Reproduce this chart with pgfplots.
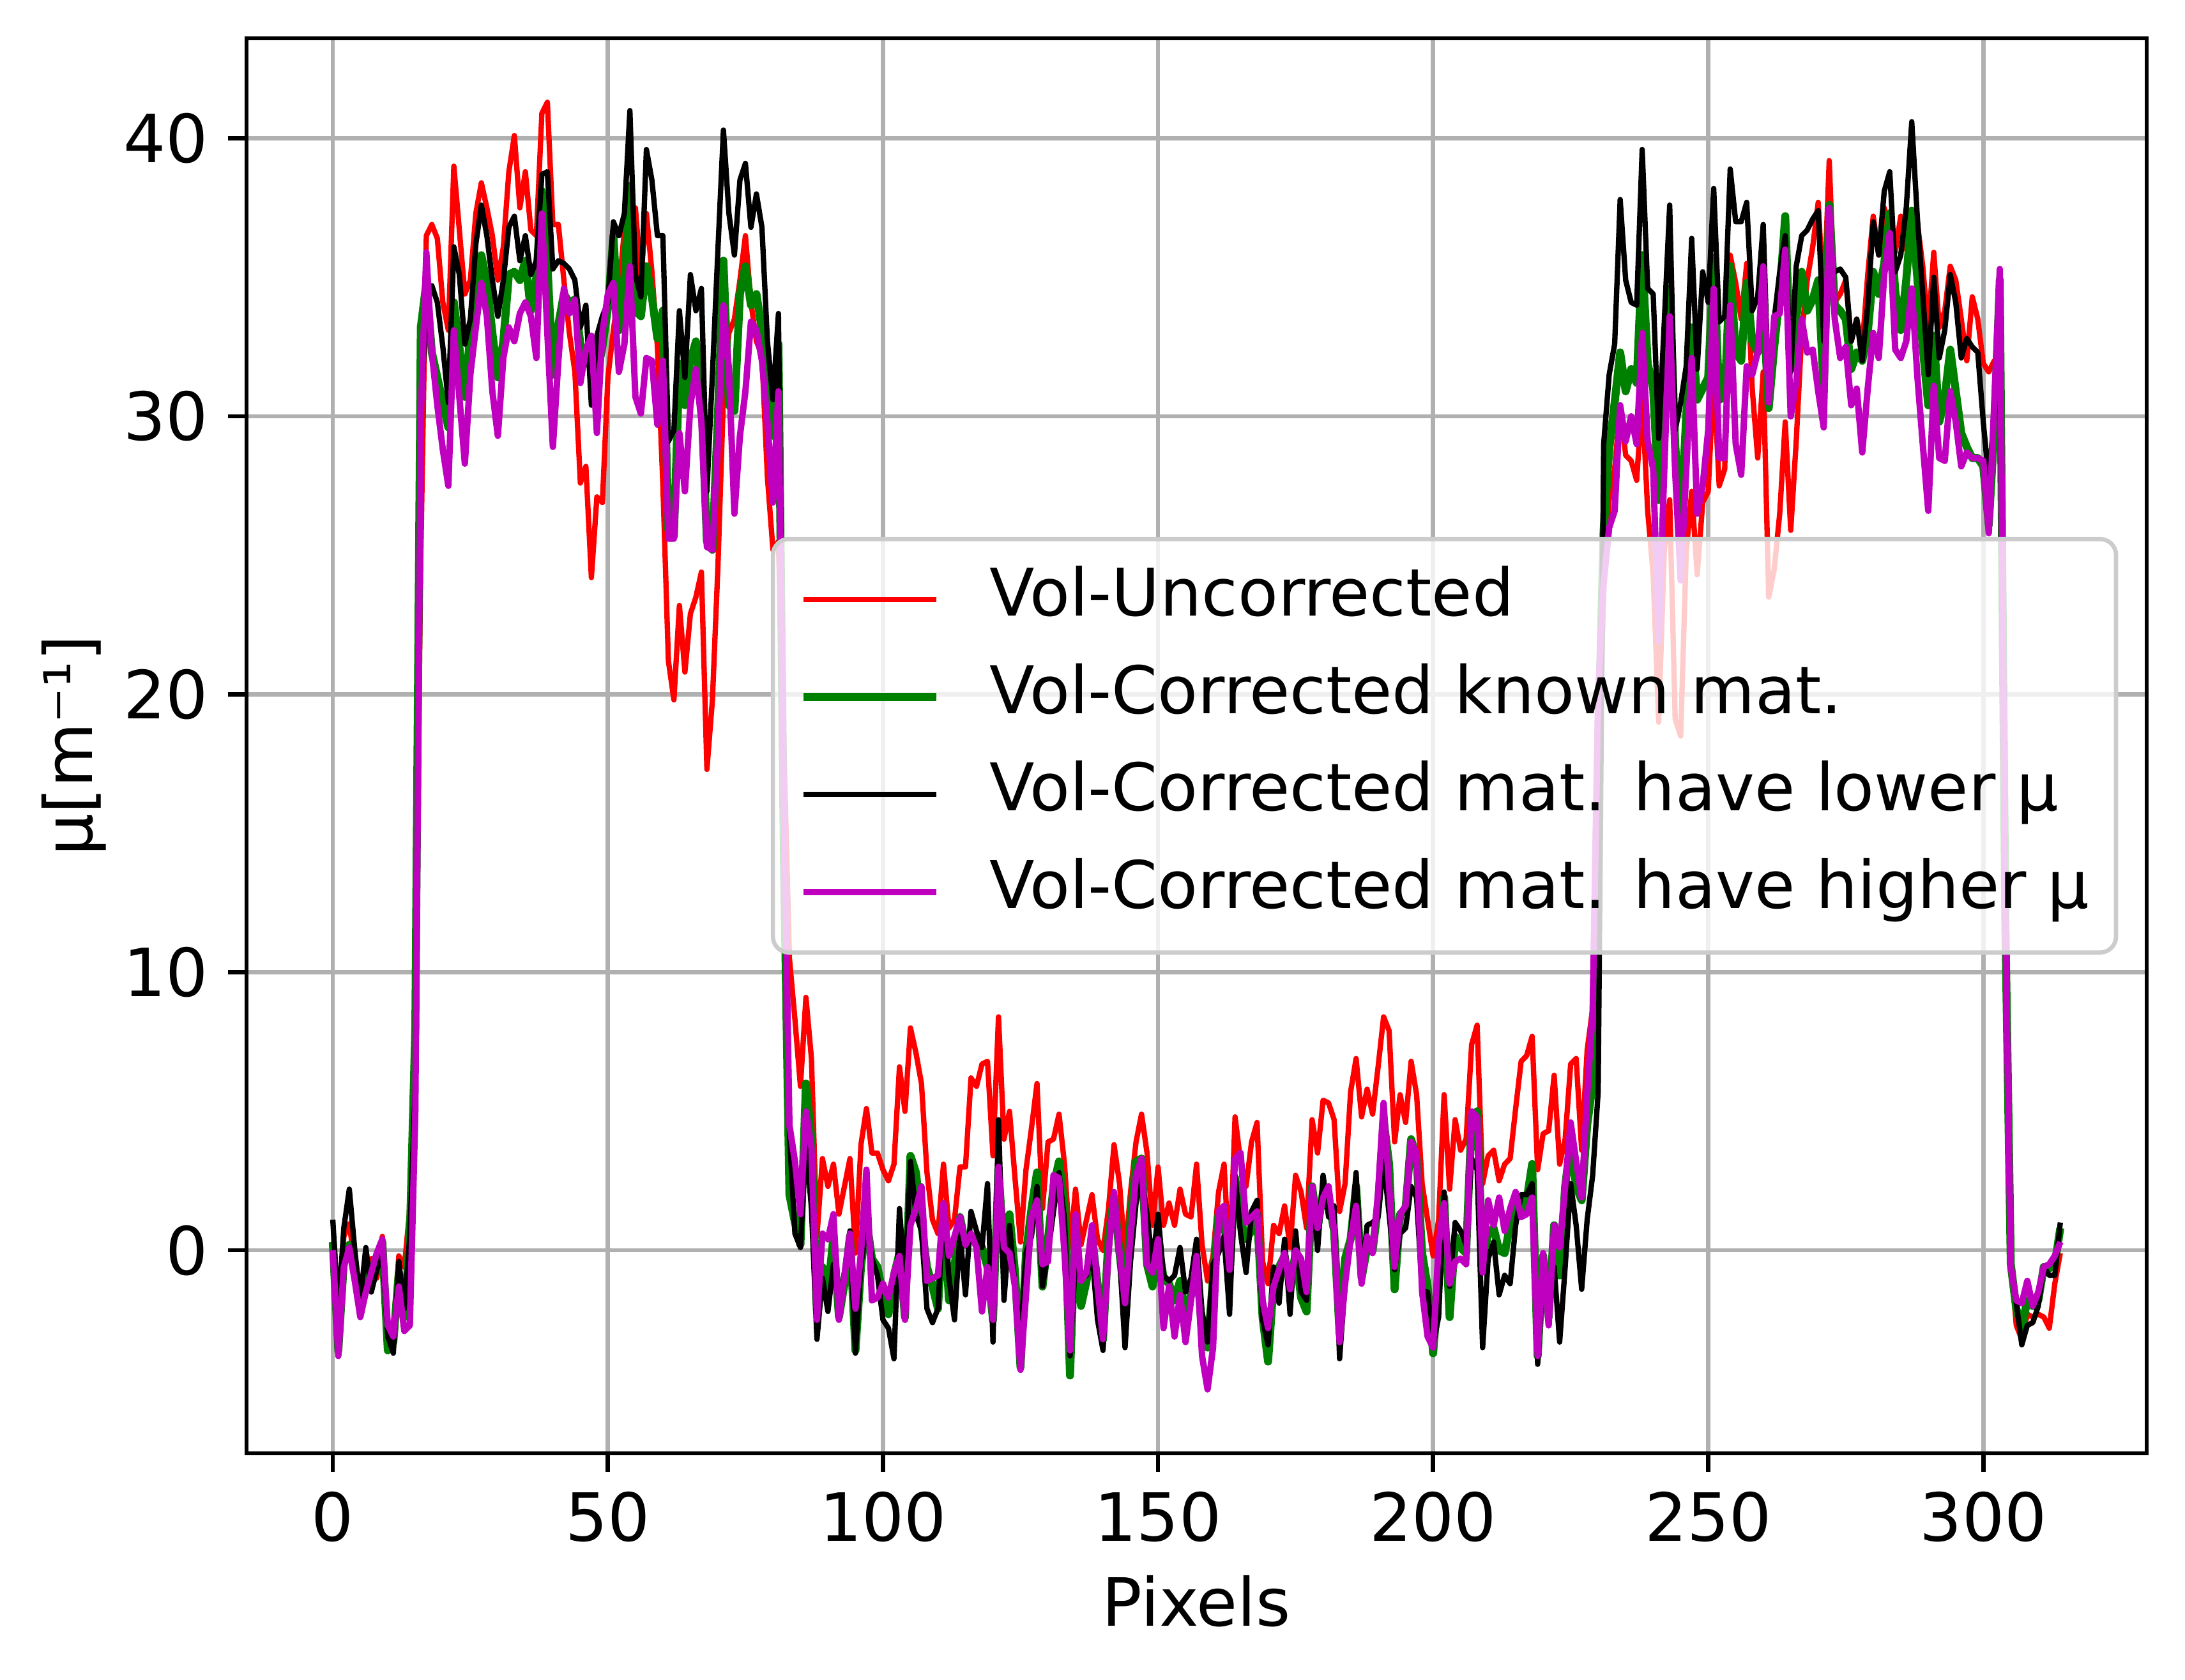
\documentclass[border=0pt]{standalone}
\usepackage{fontspec}
\setmainfont{DejaVu Sans}
\usepackage{pgfplots}
\usepackage{pgfplotstable}
\pgfplotsset{compat=1.18}
\definecolor{mplgreen}{rgb}{0,0.5,0}
\definecolor{mplmag}{rgb}{0.75,0,0.75}
\definecolor{gridgray}{rgb}{0.69,0.69,0.69}
\definecolor{legedge}{rgb}{0.8,0.8,0.8}

\pgfplotstableread{
x r g k m
0 0.2 0.3 1.1 0.0
1 -3.6 -3.6 -2.2 -3.8
2 0.5 -0.4 0.8 -0.6
3 0.95 0.2 2.2 0.1
4 -0.5 -0.9 0.0 -1.1
5 -1.2 -2.0 -1.8 -2.4
6 -0.9 -1.0 0.1 -1.5
7 -0.3 -0.8 -1.5 -0.8
8 -1.0 -0.2 -0.7 -0.1
9 0.5 0.3 -0.1 0.4
10 -2.9 -3.6 -3.1 -2.7
11 -2.8 -3.3 -3.7 -3.1
12 -0.2 -0.8 -0.4 -1.3
13 -0.6 -2.4 -2.1 -2.9
14 1.5 0.5 0.5 -2.7
15 9.0 8.0 6.0 5.0
16 25.0 33.2 30.0 30.0
17 36.5 34.8 34.0 35.9
18 36.9 32.3 34.7 32.3
19 36.4 31.4 34.1 30.4
20 34.1 30.5 32.5 28.8
21 33.1 29.6 30.5 27.5
22 39.0 34.1 36.1 33.1
23 36.7 32.5 35.1 30.7
24 34.4 30.7 32.6 28.3
25 34.9 33.0 33.5 31.5
26 37.3 34.5 36.2 33.2
27 38.4 35.8 37.6 34.8
28 37.5 34.8 36.5 33.6
29 36.5 33.0 34.9 30.9
30 34.9 31.4 33.6 29.3
31 36.1 32.7 34.9 32.1
32 38.8 35.1 36.8 33.2
33 40.1 35.2 37.2 32.7
34 37.5 34.9 35.6 33.7
35 38.8 35.6 36.5 34.1
36 36.7 33.8 35.1 33.6
37 36.5 35.0 35.6 32.1
38 40.9 38.1 38.7 37.3
39 41.3 35.5 38.8 33.0
40 36.9 31.5 35.3 28.9
41 36.9 33.3 35.6 32.0
42 34.9 34.4 35.5 34.6
43 33.0 34.1 35.3 33.7
44 31.6 34.2 34.9 34.2
45 27.6 32.6 33.2 31.2
46 28.2 32.0 34.0 32.4
47 24.2 31.8 30.4 32.9
48 27.1 31.5 32.9 29.4
49 26.9 32.5 33.6 33.0
50 31.4 33.9 34.1 34.4
51 33.1 36.5 37.0 34.8
52 34.5 33.1 36.5 31.6
53 36.7 35.0 37.3 32.6
54 35.5 38.3 41.0 35.4
55 37.5 33.8 35.1 30.7
56 35.0 33.6 34.3 30.1
57 37.3 35.4 39.6 32.1
58 35.2 34.3 38.5 32.0
59 32.5 32.8 36.5 29.7
60 27.5 33.8 36.5 32.0
61 21.2 25.9 29.1 25.6
62 19.8 25.7 29.5 25.6
63 23.2 31.9 33.8 29.4
64 20.8 30.4 31.4 27.3
65 22.9 32.0 35.1 30.4
66 23.5 32.7 33.8 31.7
67 24.4 30.7 34.6 29.8
68 17.3 25.5 27.3 25.3
69 19.8 25.2 31.5 25.2
70 24.6 30.0 36.0 29.1
71 30.7 35.6 40.3 34.0
72 33.0 30.4 37.3 31.7
73 33.5 30.2 35.8 26.5
74 34.9 34.4 38.5 29.3
75 36.5 35.4 39.1 30.9
76 34.1 34.0 36.8 33.4
77 32.7 34.4 38.0 33.1
78 32.2 33.1 36.8 32.0
79 27.8 30.9 32.7 29.8
80 25.2 29.3 30.6 26.9
81 25.5 32.6 33.7 30.9
82 18.0 14.0 15.0 16.0
83 10.5 2.0 4.2 4.5
84 8.3 1.0 0.6 3.2
85 5.9 0.2 0.1 1.3
86 9.1 6.0 3.9 5.0
87 6.9 4.0 1.5 3.7
88 0.5 -2.2 -3.2 -2.5
89 3.3 -0.6 -1.0 0.6
90 2.3 -1.5 -2.2 0.4
91 3.1 0.5 -0.5 1.3
92 1.3 -2.4 -1.8 -2.5
93 2.3 -1.2 -0.8 -0.9
94 3.3 0.5 0.7 0.6
95 -0.1 -3.6 -3.7 -2.1
96 3.8 -0.6 -0.5 -0.1
97 5.1 1.1 0.8 2.9
98 3.5 -0.3 -0.3 -1.8
99 3.5 -0.6 -0.9 -1.7
100 2.9 -1.6 -2.5 -1.2
101 2.5 -2.3 -2.8 -1.7
102 3.1 -0.9 -3.9 -0.8
103 6.6 -0.1 1.5 -0.2
104 5.0 -2.4 -1.2 -2.5
105 8.0 3.4 3.2 0.9
106 7.1 2.8 1.3 1.5
107 6.0 0.9 0.7 2.3
108 2.8 -0.6 -2.1 -1.1
109 1.1 -1.3 -2.6 -1.0
110 0.6 -2.1 -2.1 -0.9
111 3.1 1.5 1.6 1.7
112 0.8 -1.8 -1.0 -0.2
113 1.1 -0.6 -2.5 0.5
114 3.0 1.2 0.6 1.2
115 3.0 0.2 -1.6 0.2
116 6.2 0.4 1.4 0.6
117 5.9 0.5 0.7 0.1
118 6.7 0.1 0.1 -2.2
119 6.8 -0.6 2.4 -0.6
120 3.4 -2.5 -3.3 -2.5
121 8.4 2.9 4.7 3.0
122 4.0 -0.1 -1.8 0.1
123 5.0 1.3 0.9 -0.1
124 2.6 -0.8 -1.3 -1.3
125 0.3 -4.2 -3.3 -4.3
126 2.9 -0.1 -0.1 -1.6
127 4.4 1.5 0.5 1.2
128 6.0 2.8 2.3 1.8
129 1.5 -1.3 -1.3 -0.5
130 3.9 0.4 -0.1 -0.4
131 4.0 2.3 1.4 2.7
132 4.9 3.2 2.8 2.6
133 3.1 1.6 1.1 -0.1
134 0.1 -4.5 -3.8 -3.6
135 2.2 1.1 -0.3 1.3
136 0.2 -2.0 -1.0 -1.1
137 1.1 -1.1 -0.9 -0.8
138 2.0 0.5 -0.1 0.9
139 0.4 -1.2 -2.5 -1.3
140 0.0 -3.2 -3.6 -3.2
141 1.5 0.5 -0.1 -0.1
142 3.8 1.9 1.8 2.1
143 2.4 -0.1 -0.2 -0.1
144 -0.2 -1.8 -3.5 -1.9
145 2.1 1.1 -0.4 0.5
146 3.9 3.2 1.7 2.7
147 4.9 3.3 2.6 3.3
148 3.5 -0.5 1.3 -0.5
149 0.9 -1.3 -0.5 -0.8
150 3.0 0.3 1.3 0.4
151 0.9 -1.0 -0.9 -2.8
152 1.7 -1.2 -1.1 -1.3
153 0.9 -1.8 -0.9 -3.1
154 2.2 -1.1 0.1 -1.6
155 1.3 -2.4 -1.5 -3.3
156 1.2 -1.6 -1.0 -1.8
157 3.1 -0.3 0.4 -0.2
158 0.2 -3.0 -2.2 -3.8
159 -1.1 -3.5 -3.3 -5.0
160 -0.2 -1.0 -0.5 -3.5
161 2.1 1.3 -0.1 1.4
162 3.1 1.1 0.5 1.6
163 -0.6 -0.9 -2.3 -0.7
164 4.8 2.6 2.7 3.3
165 3.2 1.1 0.6 3.5
166 2.3 0.4 -0.8 1.0
167 3.9 0.7 1.4 1.2
168 4.6 1.3 1.8 1.4
169 -0.4 -2.4 -2.5 -1.8
170 -1.2 -4.0 -3.4 -2.8
171 0.9 -1.2 -0.6 -1.3
172 0.6 -0.6 -1.9 -0.7
173 1.6 -0.2 0.4 -0.1
174 0.1 -1.3 -2.3 -1.4
175 2.7 -0.1 0.7 0.0
176 2.1 -1.7 -1.5 -0.3
177 0.8 -2.2 -1.8 -1.5
178 4.7 2.3 2.3 2.3
179 3.5 0.8 0.0 0.8
180 5.4 2.1 2.7 1.9
181 5.3 1.8 1.2 2.3
182 4.7 0.7 1.6 0.7
183 1.4 -3.0 -3.9 -3.3
184 2.4 -0.3 -1.2 -1.2
185 5.7 0.4 0.5 0.4
186 6.9 2.3 2.8 1.6
187 4.8 -1.0 -0.9 -1.2
188 5.8 0.1 0.9 0.5
189 4.9 0.0 1.0 -0.1
190 6.6 1.6 1.2 2.1
191 8.4 4.7 3.2 5.3
192 7.9 3.1 1.3 2.3
193 3.9 -1.4 -0.7 -0.6
194 5.6 1.3 0.6 1.3
195 4.6 1.5 0.8 1.6
196 6.8 4.0 2.3 3.9
197 5.6 3.3 1.9 3.5
198 2.4 -0.1 -1.5 -1.5
199 1.1 -1.3 -1.5 -3.1
200 -0.2 -3.7 -3.4 -3.5
201 1.1 -1.2 -2.4 0.2
202 5.6 1.9 2.1 1.7
203 2.2 -2.4 -1.3 -1.2
204 4.7 0.5 1.0 -0.4
205 3.6 0.1 0.7 -0.3
206 4.0 -0.1 0.2 -0.5
207 7.4 4.8 3.3 5.0
208 8.1 5.0 2.9 4.8
209 2.4 -0.4 -3.5 -0.8
210 3.4 0.6 -0.3 1.8
211 3.6 0.8 0.3 0.9
212 2.5 0.0 -1.6 1.9
213 3.1 -0.1 -0.9 0.7
214 3.3 0.9 -1.2 1.5
215 5.1 1.6 0.9 2.1
216 6.8 1.3 2.0 1.2
217 7.0 1.8 2.0 1.3
218 7.7 3.1 2.4 1.9
219 2.9 -3.8 -4.1 -3.8
220 4.2 -0.2 -0.8 -0.1
221 4.3 -2.4 -1.8 -2.7
222 6.3 0.9 -0.6 0.9
223 3.1 -0.9 -3.3 0.1
224 4.0 2.3 -0.6 2.3
225 6.7 3.9 2.4 4.6
226 6.9 2.3 0.9 3.2
227 3.6 1.8 -1.4 1.9
228 7.2 4.5 1.1 5.6
229 8.7 6.0 2.7 8.6
230 16.0 18.0 5.7 20.0
231 24.0 25.9 29.0 24.0
232 27.0 28.8 31.5 26.0
233 28.1 30.5 32.6 26.6
234 30.4 32.3 37.8 30.4
235 28.6 30.9 34.9 29.1
236 28.4 31.7 34.1 30.0
237 27.7 31.2 34.0 29.0
238 30.7 35.8 39.6 33.0
239 26.6 31.9 34.6 29.1
240 24.3 31.0 34.4 28.1
241 19.0 27.0 29.2 21.9
242 25.1 31.0 33.3 28.0
243 27.0 34.6 37.6 33.6
244 19.1 29.0 29.5 28.0
245 18.5 26.0 30.5 24.1
246 25.1 30.0 31.8 28.0
247 27.3 33.2 36.4 32.1
248 24.3 30.6 31.7 26.5
249 26.9 31.0 35.2 27.5
250 27.3 31.4 34.1 29.5
251 31.5 35.7 38.2 34.6
252 27.5 30.6 33.4 28.5
253 28.1 30.7 33.6 28.5
254 35.8 35.4 38.9 34.0
255 34.8 32.3 37.0 29.0
256 33.5 32.0 37.0 27.9
257 35.5 34.8 37.7 31.8
258 31.0 32.7 33.8 31.5
259 28.5 32.3 34.3 32.3
260 31.6 34.0 36.9 35.4
261 23.5 30.3 30.7 30.5
262 24.5 32.5 33.5 33.6
263 26.5 34.4 35.2 33.7
264 29.8 37.2 36.5 36.0
265 25.9 31.7 31.6 30.0
266 29.1 33.5 35.4 31.2
267 33.0 35.2 36.5 33.5
268 34.9 33.8 36.7 32.3
269 36.1 34.2 37.1 32.4
270 37.7 34.9 37.4 30.9
271 34.0 31.0 32.7 29.6
272 39.2 37.6 35.0 37.5
273 34.1 34.0 35.2 33.5
274 34.4 33.8 35.3 32.1
275 34.9 33.5 35.0 32.5
276 32.7 31.7 32.7 30.4
277 33.5 32.3 33.5 31.0
278 32.5 32.0 32.0 28.7
279 35.1 33.0 34.0 31.0
280 37.2 35.2 37.0 33.0
281 35.8 34.4 35.8 32.1
282 37.5 35.5 38.1 35.1
283 36.7 37.3 38.8 36.6
284 35.9 34.5 35.2 32.4
285 37.2 33.1 35.8 32.1
286 36.0 34.9 37.5 32.7
287 37.2 37.4 40.6 34.6
288 37.0 35.0 37.2 31.5
289 35.4 32.5 34.4 29.0
290 33.1 30.4 31.5 26.6
291 35.9 32.9 35.0 31.1
292 33.2 29.8 32.1 28.5
293 33.8 30.7 33.1 28.4
294 35.4 32.4 35.1 30.9
295 34.9 30.9 34.1 29.8
296 33.5 29.4 32.1 28.2
297 32.0 28.9 32.8 28.7
298 34.3 28.5 32.5 28.5
299 33.5 28.5 32.3 28.5
300 31.9 28.2 29.8 28.4
301 31.6 26.1 27.7 25.8
302 32.0 29.5 30.0 30.5
303 31.5 34.9 32.0 35.3
304 12.0 12.0 12.0 12.0
305 -0.3 -0.5 -0.5 -0.6
306 -2.7 -2.1 -1.9 -1.8
307 -3.2 -2.8 -3.4 -1.9
308 -2.3 -1.8 -2.7 -1.1
309 -2.4 -2.0 -2.6 -2.0
310 -2.3 -1.8 -2.0 -1.5
311 -2.4 -0.6 -0.6 -0.6
312 -2.8 -0.65 -0.9 -0.5
313 -1.2 -0.5 -0.9 -0.2
314 -0.1 0.8 1.0 0.3
}\data

\begin{document}
\fontsize{12.5}{15}\selectfont
\begin{tikzpicture}
\useasboundingbox (-46.3pt,-42.6pt) rectangle (364.2pt,273.1pt);
\begin{axis}[
  scale only axis,
  width=357.0pt, height=265.9pt,
  xmin=-15.7, xmax=329.7, ymin=-7.3, ymax=43.6,
  xtick={0,50,100,150,200,250,300},
  ytick={0,10,20,30,40},
  /pgf/number format/assume math mode=true,
  grid=major,
  major grid style={draw=gridgray, line width=0.8pt},
  axis line style={line width=0.8pt, black},
  tick align=outside,
  tick pos=left,
  major tick length=3.5pt,
  every tick/.style={black, line width=0.8pt},
  xticklabel style={anchor=north, inner sep=0pt, yshift=-3.5pt},
  yticklabel style={anchor=east, inner sep=0pt, xshift=-3.5pt},
  xlabel={Pixels},
  ylabel={μ[m⁻¹]},
  every axis x label/.style={at={(axis description cs:0.5,-0.1219)}, anchor=base, inner sep=0pt},
  every axis y label/.style={at={(axis description cs:-0.0810,0.5)}, anchor=base, rotate=90, inner sep=0pt},
  legend cell align=left,
  legend image code/.code={\draw[#1] (0pt,0pt) -- (25pt,0pt); \path[draw=none,fill=none] (0pt,0pt) -- (35pt,0pt);},
  legend style={at={(0.985,0.5)}, anchor=east,
    draw=legedge, line width=0.8pt, rounded corners=3pt,
    fill=white, fill opacity=0.8, draw opacity=1, text opacity=1,
    inner xsep=5pt, inner ysep=5.45pt, row sep=6.4pt,
    font=\fontsize{12.35}{15}\selectfont,
    nodes={inner sep=0pt, text height=9.0pt, text depth=2.9pt, anchor=west}},
]
\addplot[red, line width=1.0pt, line join=round] table[x=x, y=r] {\data};
\addlegendentry{Vol-Uncorrected}
\addplot[mplgreen, line width=1.5pt, line join=round] table[x=x, y=g] {\data};
\addlegendentry{Vol-Corrected known mat.}
\addplot[black, line width=1.0pt, line join=round] table[x=x, y=k] {\data};
\addlegendentry{Vol-Corrected mat. have lower μ}
\addplot[mplmag, line width=1.2pt, line join=round] table[x=x, y=m] {\data};
\addlegendentry{Vol-Corrected mat. have higher μ}
\end{axis}
\end{tikzpicture}
\end{document}
